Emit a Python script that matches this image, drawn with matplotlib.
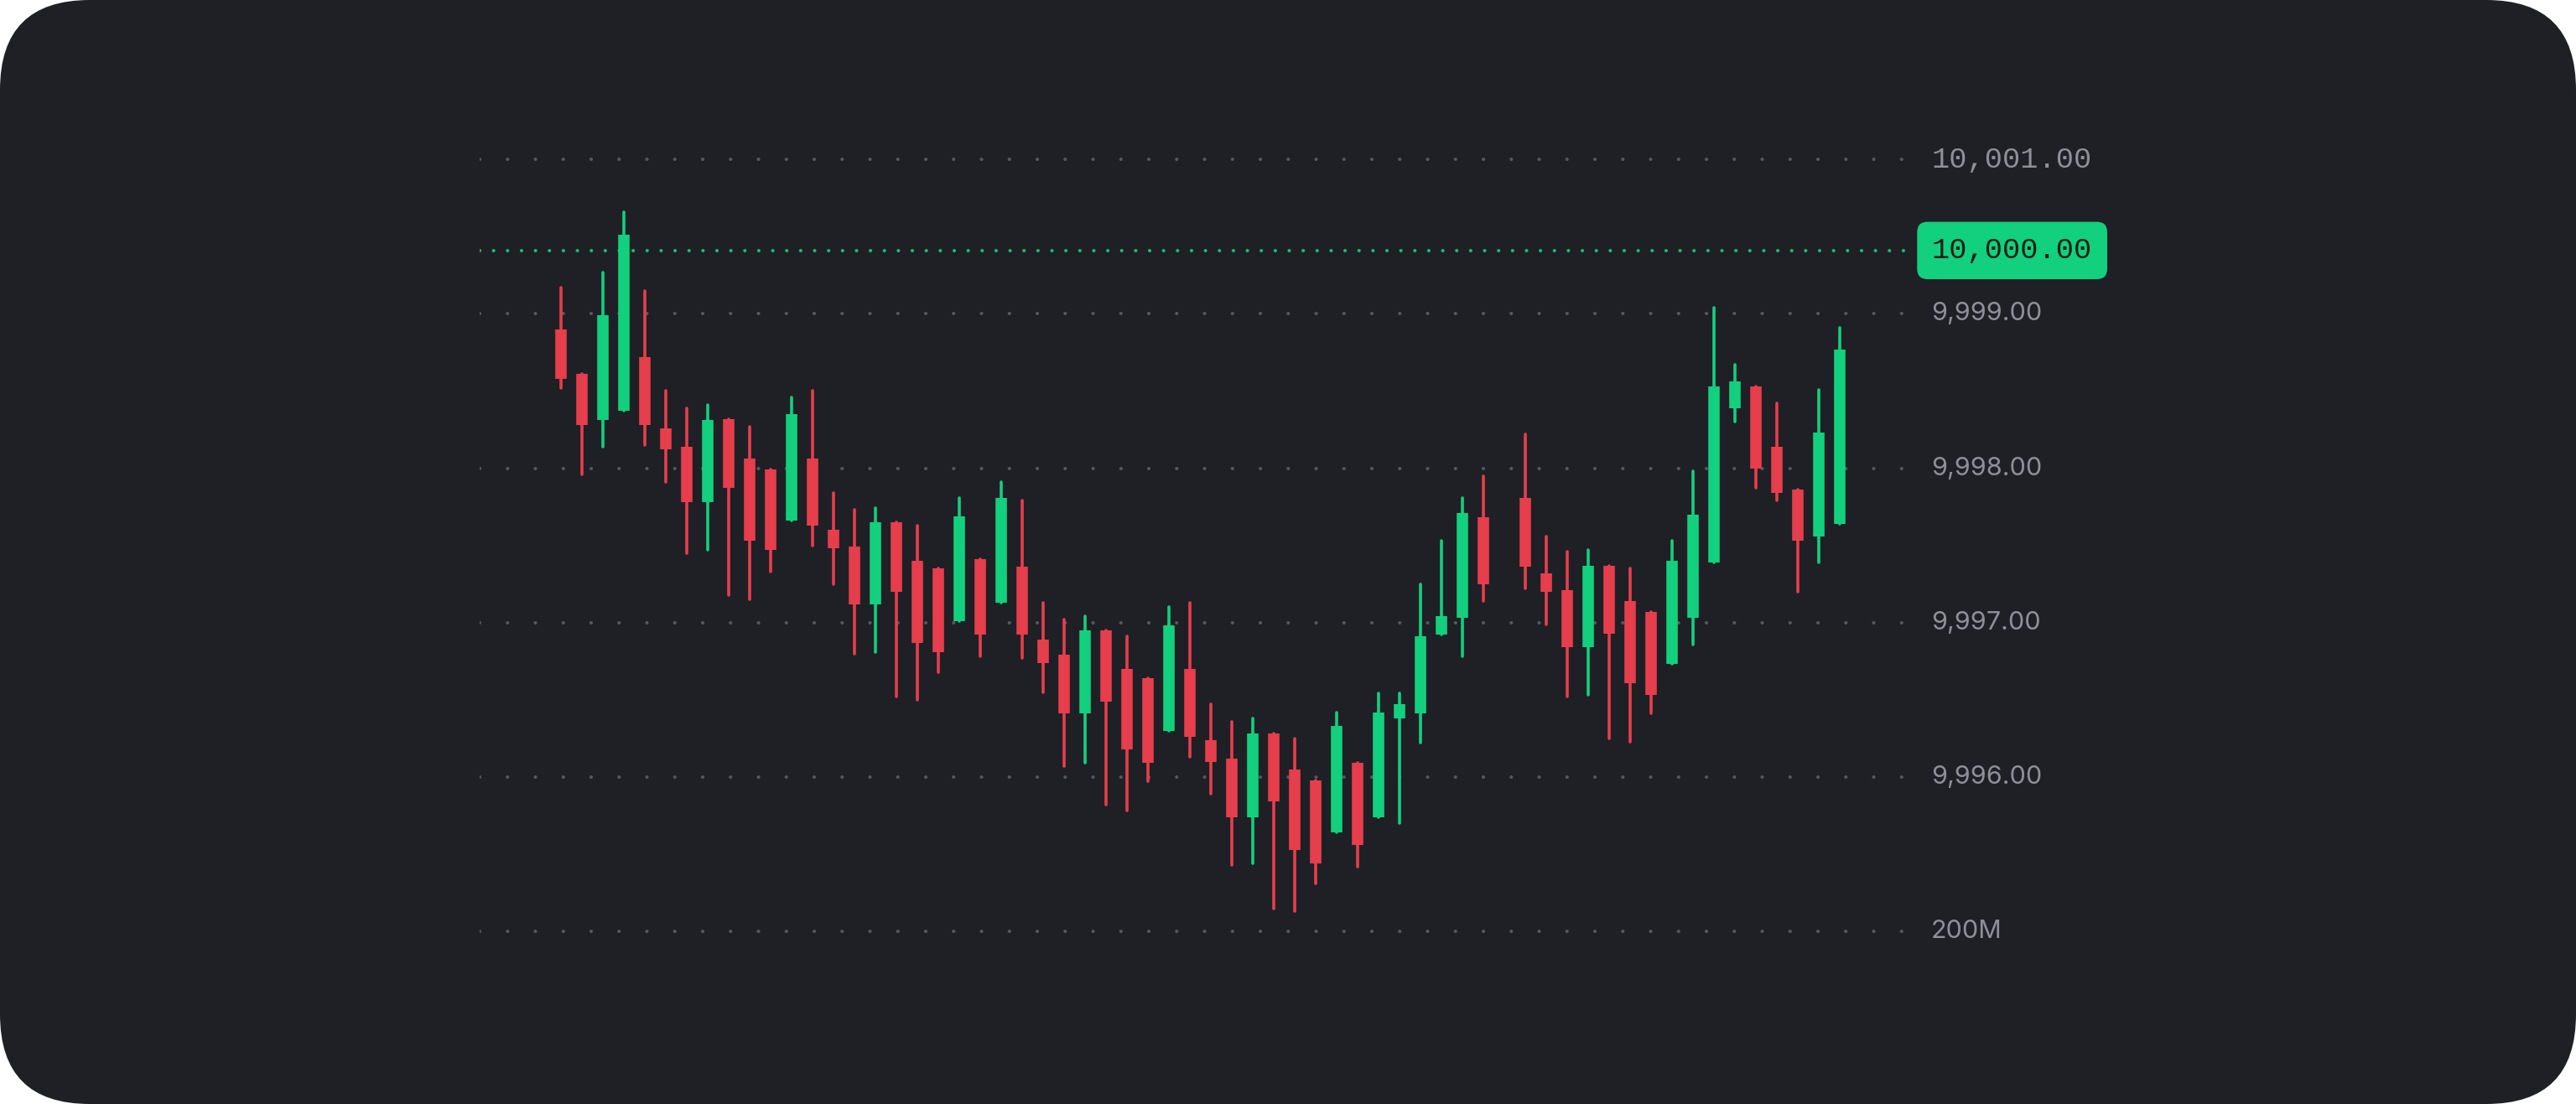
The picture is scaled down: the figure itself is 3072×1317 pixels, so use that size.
import numpy as np
import matplotlib
matplotlib.use("Agg")
import matplotlib.pyplot as plt
import matplotlib.transforms as mtrans
from matplotlib.patches import FancyBboxPatch

# candle data (nan = empty slot)
opens = [9998.90, 9998.61, 9998.31, 9998.37, 9998.72, 9998.26, 9998.14, 9997.78, 9998.32, 9998.06,
         9997.99, 9997.66, 9998.06, 9997.60, 9997.49, 9997.12, 9997.65, 9997.40, 9997.35, 9997.01,
         9997.41, 9997.13, 9997.36, 9996.89, 9996.79, 9996.41, 9996.95, 9996.70, 9996.64, 9996.30,
         9996.70, 9996.24, 9996.12, 9995.74, 9996.28, 9996.05, 9995.98, 9995.64, 9996.09, 9995.74,
         9996.38, 9996.41, 9996.92, 9997.03, 9997.68, np.nan, 9997.81, 9997.32, 9997.21, 9996.84,
         9997.37, 9997.14, 9997.07, 9996.73, 9997.03, 9997.39, 9998.39, 9998.53, 9998.14, 9997.86,
         9997.56, 9997.64]
highs = [9999.17, 9998.61, 9999.27, 9999.66, 9999.15, 9998.50, 9998.39, 9998.41, 9998.32, 9998.27,
         9997.99, 9998.46, 9998.50, 9997.84, 9997.73, 9997.74, 9997.65, 9997.63, 9997.35, 9997.81,
         9997.41, 9997.91, 9997.79, 9997.13, 9997.02, 9997.04, 9996.95, 9996.91, 9996.64, 9997.10,
         9997.13, 9996.47, 9996.36, 9996.38, 9996.28, 9996.25, 9995.98, 9996.42, 9996.09, 9996.54,
         9996.54, 9997.25, 9997.53, 9997.81, 9997.95, np.nan, 9998.22, 9997.56, 9997.46, 9997.47,
         9997.37, 9997.35, 9997.07, 9997.53, 9997.98, 9999.04, 9998.67, 9998.53, 9998.42, 9997.86,
         9998.51, 9998.91]
lows = [9998.52, 9997.96, 9998.14, 9998.37, 9998.15, 9997.91, 9997.45, 9997.47, 9997.18, 9997.15,
        9997.33, 9997.66, 9997.50, 9997.25, 9996.80, 9996.81, 9996.52, 9996.50, 9996.68, 9997.01,
        9996.78, 9997.13, 9996.77, 9996.55, 9996.07, 9996.09, 9995.82, 9995.78, 9995.97, 9996.30,
        9996.13, 9995.89, 9995.43, 9995.44, 9995.15, 9995.13, 9995.31, 9995.64, 9995.42, 9995.74,
        9995.70, 9996.22, 9996.92, 9996.78, 9997.14, np.nan, 9997.22, 9996.99, 9996.52, 9996.53,
        9996.25, 9996.23, 9996.41, 9996.73, 9996.86, 9997.39, 9998.30, 9997.87, 9997.79, 9997.20,
        9997.39, 9997.64]
closes = [9998.58, 9998.28, 9998.99, 9999.51, 9998.28, 9998.12, 9997.78, 9998.31, 9997.87, 9997.53,
          9997.47, 9998.35, 9997.63, 9997.48, 9997.12, 9997.65, 9997.20, 9996.87, 9996.81, 9997.69,
          9996.92, 9997.81, 9996.92, 9996.74, 9996.41, 9996.95, 9996.49, 9996.18, 9996.09, 9996.98,
          9996.26, 9996.10, 9995.74, 9996.28, 9995.84, 9995.53, 9995.44, 9996.33, 9995.56, 9996.42,
          9996.47, 9996.91, 9997.04, 9997.71, 9997.25, np.nan, 9997.36, 9997.20, 9996.84, 9997.37,
          9996.93, 9996.61, 9996.53, 9997.40, 9997.70, 9998.53, 9998.56, 9998.00, 9997.84, 9997.53,
          9998.23, 9998.77]

grid_levels = [10000, 9999, 9998, 9997, 9996, 9995]
grid_labels = ["10,001.00", "9,999.00", "9,998.00", "9,997.00", "9,996.00", "200M"]
last_price = 9999.41
last_label = "10,000.00"

bg_color = "#1f2025"
up_color = "#12d07e"
down_color = "#e63e4c"
grid_color = "#55585f"
price_line_color = "#1bb878"
label_color = "#8e9099"

W, H = 3072, 1317
fig = plt.figure(figsize=(W / 100, H / 100), dpi=100)
fig.patch.set_facecolor("white")

# rounded dark panel
bg = fig.add_axes([0, 0, 1, 1])
bg.set_xlim(0, W)
bg.set_ylim(0, H)
bg.axis("off")
bg.add_patch(FancyBboxPatch((0, 0), W, H, boxstyle="round,pad=0,rounding_size=107",
                            fc=bg_color, ec="none"))

# chart area: 572..2275 px wide, 150..1150 px tall
ax = fig.add_axes([572 / W, (H - 1150) / H, 1703 / W, 1000 / H])
ax.set_facecolor("none")
ax.axis("off")
ax.set_xlim(-3.864, 64.256)
ax.set_ylim(9994.789, 10000.218)

for lvl in grid_levels:
    ax.axhline(lvl, color=grid_color, lw=3, dashes=(0.01, 7.97), dash_capstyle="round", zorder=0)
ax.axhline(last_price, color=price_line_color, lw=3, dashes=(0.01, 3.985), dash_capstyle="round",
           zorder=0)

o = np.array(opens)
h = np.array(highs)
l = np.array(lows)
c = np.array(closes)
idx = np.arange(len(o))
up = c >= o
colors = np.where(up, up_color, down_color)

ok = ~np.isnan(o)
ax.vlines(idx[ok], l[ok], h[ok], colors=colors[ok], lw=2.6, capstyle="round", zorder=2)
ax.vlines(idx[ok], np.minimum(o, c)[ok], np.maximum(o, c)[ok], colors=colors[ok], lw=9.8,
          capstyle="butt", zorder=3)

# price labels on the right
trans = mtrans.blended_transform_factory(fig.transFigure, ax.transData)
for lvl, lab in zip(grid_levels, grid_labels):
    if lab.startswith("10,"):
        fam, fs = "Liberation Mono", 25.5
    else:
        fam, fs = "Inter", 22
    ax.text(2303 / W, lvl, lab, transform=trans, va="center", ha="left",
            fontsize=fs, color=label_color, family=fam)

ax.text(2304 / W, last_price, last_label, transform=trans, va="center", ha="left",
        fontsize=25.5, color="#0a1c14", family="Liberation Mono",
        bbox=dict(boxstyle="round,pad=0.5,rounding_size=0.35", fc=up_color, ec="none"))

fig.savefig("out.png", dpi=100, facecolor=fig.get_facecolor())
